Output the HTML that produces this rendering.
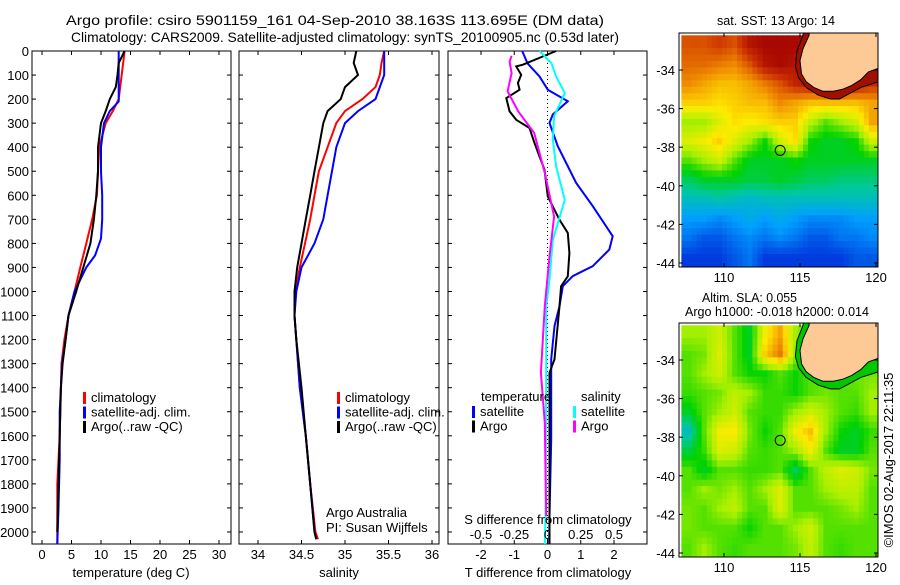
<!DOCTYPE html>
<html><head><meta charset="utf-8"><style>
body{margin:0;background:#fff;width:900px;height:580px;overflow:hidden}
svg{font-family:"Liberation Sans",sans-serif;font-size:13px}
</style></head><body>
<svg id="c" width="900" height="580" xmlns="http://www.w3.org/2000/svg">
<text x="66" y="25" textLength="538" lengthAdjust="spacingAndGlyphs" font-size="14">Argo profile: csiro 5901159_161 04-Sep-2010 38.163S 113.695E (DM data)</text>
<text x="71" y="42" textLength="548" lengthAdjust="spacingAndGlyphs" font-size="14">Climatology: CARS2009. Satellite-adjusted climatology: synTS_20100905.nc (0.53d later)</text>
<text x="717" y="25" textLength="118" lengthAdjust="spacingAndGlyphs">sat. SST: 13 Argo: 14</text>
<text x="702" y="302" textLength="95" lengthAdjust="spacingAndGlyphs">Altim. SLA: 0.055</text>
<text x="685" y="316" textLength="184" lengthAdjust="spacingAndGlyphs">Argo h1000: -0.018 h2000: 0.014</text>
<text transform="translate(893,460) rotate(-90)" text-anchor="middle">©IMOS 02-Aug-2017 22:11:35</text>
<g id="g"></g>
</svg>
<script>
// ---- profile data ----
const depthTA=[0,50,100,150,200,250,300,400,500,600,700,800,900,1000,1100,1200,1300,1400,1600,1800,2000];
const tempArgo=[14,13,12.8,12.5,11.5,10.8,10,9.5,9.5,9.2,8.8,8.2,7,5.8,4.5,4,3.5,3.2,3,2.8,2.6];
const depthTC=[0,100,200,250,300,400,500,600,700,800,900,1000,1100,1200,1300,1400,1600,1800,2000,2050];
const tempClim=[14,13.5,13,12,10.8,9.7,9.5,9.3,8.5,7.5,6.5,5.5,4.5,3.8,3.3,3.2,3,2.6,2.6,2.6];
const depthTS=[0,100,210,250,300,400,500,600,700,780,850,900,1000,1100,1200,1300,1500,1700,1900,2050];
const tempSat=[13,13,13,11.5,10.5,10,10,10.2,10.2,10,9,7.5,5.5,4.5,4,3.4,3,3,2.8,2.6];
const depthS=[0,50,100,150,200,250,300,400,500,600,700,800,900,1000,1100,1200,1400,1600,1800,2000,2030];
const salArgo=[35.13,35.1,35.15,35.0,34.95,34.8,34.75,34.7,34.65,34.6,34.55,34.5,34.45,34.42,34.42,34.44,34.5,34.55,34.6,34.65,34.67];
const salClim=[35.45,35.42,35.4,35.35,35.2,35.0,34.9,34.8,34.7,34.65,34.6,34.54,34.48,34.43,34.42,34.44,34.48,34.55,34.6,34.66,34.69];
const salSat=[35.45,35.45,35.45,35.4,35.35,35.15,35.0,34.9,34.85,34.8,34.75,34.65,34.5,34.44,34.42,34.44,34.48,34.55,34.6,34.65,34.67];
const depthDTS=[0,51,106,161,209,264,299,396,465,548,645,770,826,895,936,978,1061,1144,1282,1615,1934,2050];
const dTSat=[-0.76,-0.6,-0.24,0.01,0.61,0.16,0.06,0.31,0.56,0.86,1.36,1.96,1.86,1.36,0.76,0.46,0.36,0.21,0.11,0.11,0.06,0.05];
const depthDTA=[0,57,64,99,133,161,196,251,286,320,383,494,605,702,757,840,937,978,1061,1282,1338,1934,2050];
const dTArgo=[0.26,-0.74,-0.94,-0.79,-0.89,-0.84,-1.24,-1.14,-0.94,-0.54,-0.39,-0.09,0.01,0.36,0.61,0.66,0.61,0.41,0.36,0.21,0.06,0.06,0.06];
const depthDSS=[0,51,106,175,271,368,480,619,785,951,1061,1338,1934,2050];
const dSSat=[-0.06,0.03,0.065,0.13,0.05,0.04,0.065,0.13,0.04,0.015,-0.01,-0.01,-0.015,-0.02];
const depthDSA=[20,44,92,168,251,341,507,688,854,1061,1338,1546,1934];
const dSArgo=[-0.27,-0.285,-0.27,-0.3,-0.22,-0.1,-0.02,0.05,0.015,-0.02,-0.05,-0.02,-0.01];
// ---- map data (0..1 colour index), 13 cols lon 107.2.., 12 rows lat -32.2.. ----
const sstGrid=[
[.85,.85,.88,.85,.95,.98,.98,.98,.98,.9,.9,.9,.9],
[.82,.82,.8,.78,.85,.95,.98,.95,.92,.9,.9,.9,.92],
[.78,.75,.72,.72,.75,.8,.85,.92,.95,.95,.95,.95,.9],
[.7,.7,.68,.7,.72,.72,.78,.75,.72,.72,.72,.72,.75],
[.55,.55,.62,.68,.66,.68,.7,.7,.58,.5,.55,.6,.75],
[.62,.65,.7,.62,.55,.45,.6,.68,.45,.42,.42,.45,.6],
[.5,.55,.6,.5,.42,.42,.42,.45,.42,.42,.42,.42,.42],
[.38,.42,.42,.42,.4,.4,.42,.4,.38,.38,.36,.36,.36],
[.3,.3,.32,.3,.28,.3,.3,.3,.3,.3,.3,.3,.3],
[.22,.22,.2,.22,.25,.22,.25,.22,.2,.2,.2,.22,.22],
[.18,.15,.15,.18,.2,.18,.2,.18,.15,.15,.18,.18,.2],
[.12,.12,.12,.15,.18,.12,.12,.12,.12,.12,.12,.15,.15]];
const slaGrid=[
[.55,.55,.6,.5,.42,.65,.75,.55,.5,.5,.5,.5,.5],
[.5,.52,.62,.5,.42,.7,.8,.55,.5,.5,.5,.5,.5],
[.5,.55,.6,.5,.45,.45,.5,.45,.5,.5,.5,.52,.52],
[.48,.5,.52,.58,.55,.48,.48,.45,.5,.52,.5,.5,.55],
[.42,.5,.55,.6,.5,.48,.48,.55,.6,.55,.5,.48,.55],
[.3,.5,.65,.66,.52,.45,.5,.65,.72,.55,.45,.42,.48],
[.4,.48,.62,.6,.5,.48,.5,.55,.65,.5,.42,.42,.5],
[.5,.42,.5,.5,.48,.48,.5,.38,.5,.58,.62,.6,.52],
[.5,.55,.52,.55,.5,.55,.62,.5,.5,.55,.58,.58,.5],
[.52,.5,.55,.58,.5,.5,.62,.5,.5,.5,.52,.55,.5],
[.52,.5,.5,.5,.45,.5,.5,.55,.6,.5,.5,.5,.5],
[.5,.55,.5,.48,.5,.5,.5,.52,.58,.5,.48,.5,.5]];
const coastLon=[115.6,115.2,115.0,115.1,115.4,115.9,116.5,117.2,117.8,118.4,119.0,119.5,120.2];
const coastLat=[-32.2,-32.9,-33.5,-34.2,-34.6,-34.9,-35.1,-35.1,-35.0,-34.8,-34.5,-34.1,-33.9];
const shelfLon=[115.2,114.8,114.7,114.9,115.4,116.2,117.0,117.6,118.3,119.0,120.2];
const shelfLat=[-32.2,-33.0,-33.8,-34.4,-34.9,-35.3,-35.5,-35.5,-35.2,-34.9,-34.6];
const argoLon=113.695, argoLat=-38.163;

const NS="http://www.w3.org/2000/svg";
const G=document.getElementById('g');
function el(t,a,p){const e=document.createElementNS(NS,t);for(const k in a)e.setAttribute(k,a[k]);(p||G).appendChild(e);return e;}
function txt(x,y,s,anchor,p){const e=el('text',{x:x,y:y,'text-anchor':anchor||'middle'},p);e.textContent=s;return e;}
const Y0=51, Y1=544, D1=2050;
const yD=d=>Y0+(Y1-Y0)*d/D1;
function lin(d0,d1,p0,p1){return v=>p0+(v-d0)*(p1-p0)/(d1-d0);}
function line(xs,ds,fx,col,name){
  let pts=xs.map((v,i)=>fx(v).toFixed(1)+','+yD(ds[i]).toFixed(1)).join(' ');
  const e=el('polyline',{points:pts,fill:'none',stroke:col,'stroke-width':2});
  
  
}
function box(x0,x1,name){
  const e=el('rect',{x:x0,y:Y0,width:x1-x0,height:Y1-Y0,fill:'none',stroke:'#000','stroke-width':1});
  
  
  for(let d=0;d<=2000;d+=100){el('line',{x1:x0,x2:x0+4,y1:yD(d),y2:yD(d),stroke:'#000'});el('line',{x1:x1,x2:x1-4,y1:yD(d),y2:yD(d),stroke:'#000'});}
}
function xticks(fx,vals,labels,x0,x1,name){
  vals.forEach((v,i)=>{const x=fx(v);el('line',{x1:x,x2:x,y1:Y1,y2:Y1-4,stroke:'#000'});el('line',{x1:x,x2:x,y1:Y0,y2:Y0+4,stroke:'#000'});
    const t=txt(x,559,labels[i]);});
}
function legend(x,y,cols,labels,name){
  cols.forEach((c,i)=>{el('rect',{x:x,y:y+i*14.5-10,width:3,height:12,fill:c});
    const t=txt(x+8,y+i*14.5,labels[i],'start');});
}
// Panel 1
const fT=lin(0,30,42,219);
box(32,231,'temperature-panel');
for(let d=0;d<=2000;d+=100){const t=txt(29,yD(d)+5,String(d),'end');}
xticks(fT,[0,5,10,15,20,25,30],['0','5','10','15','20','25','30'],32,231,'temperature-tick-label');
txt(131,577,'temperature (deg C)');
line(tempClim,depthTC,fT,'#f00','temp-climatology-line');
line(tempSat,depthTS,fT,'#00f','temp-satellite-line');
line(tempArgo,depthTA,fT,'#000','temp-argo-line');
legend(83,402,['#f00','#00f','#000'],['climatology','satellite-adj. clim.','Argo(..raw -QC)'],'temperature-legend-entry');
// Panel 2
const fS=lin(34,36,258,432);
box(239,439,'salinity-panel');
xticks(fS,[34,34.5,35,35.5,36],['34','34.5','35','35.5','36'],239,439,'salinity-tick-label');
txt(339,577,'salinity');
line(salClim,depthS,fS,'#f00','sal-climatology-line');
line(salSat,depthS,fS,'#00f','sal-satellite-line');
line(salArgo,depthS,fS,'#000','sal-argo-line');
legend(337,402,['#f00','#00f','#000'],['climatology','satellite-adj. clim.','Argo(..raw -QC)'],'salinity-legend-entry');
txt(326,517,'Argo Australia','start');
txt(326,532,'PI: Susan Wijffels','start');
// Panel 3
const fD=lin(-2,2,481,614);
const fDS=lin(-0.5,0.5,481,614);
box(448,647,'difference-panel');
xticks(fD,[-2,-1,0,1,2],['-2','-1','0','1','2'],448,647,'t-diff-tick-label');
txt(548,577,'T difference from climatology');
el('line',{x1:fD(0),x2:fD(0),y1:Y0,y2:Y1,stroke:'#000','stroke-dasharray':'1,3'});
line(dTSat,depthDTS,fD,'#00f','t-diff-satellite-line');
line(dTArgo,depthDTA,fD,'#000','t-diff-argo-line');
line(dSSat,depthDSS,fDS,'#0ff','s-diff-satellite-line');
line(dSArgo,depthDSA,fDS,'#f0f','s-diff-argo-line');
txt(548,524,'S difference from climatology');
[-0.5,-0.25,0,0.25,0.5].forEach((v,i)=>{const t=txt(fDS(v),539,['-0.5','-0.25','0','0.25','0.5'][i]);});
txt(481,401,'temperature','start');
legend(472,416,['#00f','#000'],['satellite','Argo'],'t-diff-legend-entry');
txt(581,401,'salinity','start');
legend(573,416,['#0ff','#f0f'],['satellite','Argo'],'s-diff-legend-entry');
// Maps
const stops=[[0,0,140],[0,50,220],[0,160,255],[0,200,160],[0,210,0],[170,240,0],[255,235,0],[240,140,0],[205,50,0],[160,0,0]];
function cmap(v){v=Math.max(0,Math.min(1,v))*(stops.length-1);const i=Math.min(stops.length-2,Math.floor(v)),f=v-i;
  const c=stops[i].map((a,k)=>Math.round(a+(stops[i+1][k]-a)*f));return 'rgb('+c.join(',')+')';}
function map(top,grid,name,coastFill){
  const fx=lin(110,120,724,876), fy=lin(-34,-44,top+37,top+230);
  const x0=679,x1=878,y0=top,y1=top+234;
  const g=el('g',{});
  const cp=el('clipPath',{id:'cp'+top},g);el('rect',{x:x0,y:y0,width:x1-x0,height:y1-y0},cp);
  const inner=el('g',{'clip-path':'url(#cp'+top+')'},g);
  const R=grid.length,C=grid[0].length,sub=3;
  for(let r=0;r<R*sub;r++)for(let c=0;c<C*sub;c++){
    const gr=Math.min(R-1,(r+0.5)/sub-0.5), gc=Math.min(C-1,(c+0.5)/sub-0.5);
    const r0=Math.max(0,Math.floor(gr)),c0=Math.max(0,Math.floor(gc)),r1=Math.min(R-1,r0+1),c1=Math.min(C-1,c0+1);
    const fr=Math.max(0,gr-r0),fc=Math.max(0,gc-c0);
    const v=grid[r0][c0]*(1-fr)*(1-fc)+grid[r0][c1]*(1-fr)*fc+grid[r1][c0]*fr*(1-fc)+grid[r1][c1]*fr*fc;
    const lx=107.2+c/sub, ly=-32.2-r/sub;
    el('rect',{x:fx(lx).toFixed(1),y:fy(ly).toFixed(1),width:(15.2/sub+0.6).toFixed(1),height:(19.3/sub+0.6).toFixed(1),fill:cmap(v)},inner);
  }
  const sh=shelfLon.map((v,i)=>fx(v).toFixed(1)+','+fy(shelfLat[i]).toFixed(1)).join(' ');
  el('polygon',{points:sh+' '+fx(121)+','+fy(-32)+' '+fx(115.2)+','+fy(-32),fill:coastFill,stroke:'#000','stroke-width':1},inner);
  const cs=coastLon.map((v,i)=>fx(v).toFixed(1)+','+fy(coastLat[i]).toFixed(1)).join(' ');
  const land=el('polygon',{points:cs+' '+fx(121)+','+fy(-32)+' '+fx(115.6)+','+fy(-32),fill:'#fdc994',stroke:'#000','stroke-width':1},inner);
  
  const m=el('circle',{cx:fx(argoLon),cy:fy(argoLat),r:5,fill:'none',stroke:'#000','stroke-width':1},g);
  
  el('rect',{x:x0,y:y0,width:x1-x0,height:y1-y0,fill:'none',stroke:'#000'},g);
  [-34,-36,-38,-40,-42,-44].forEach(l=>{const y=fy(l);el('line',{x1:x0,x2:x0+4,y1:y,y2:y,stroke:'#000'},g);el('line',{x1:x1,x2:x1-4,y1:y,y2:y,stroke:'#000'},g);
    const t=txt(675,y+5,String(l),'end',g);});
  [110,115,120].forEach(l=>{const x=fx(l);el('line',{x1:x,x2:x,y1:y1,y2:y1-4,stroke:'#000'},g);el('line',{x1:x,x2:x,y1:y0,y2:y0+4,stroke:'#000'},g);
    const t=txt(x,y1+15,String(l),'middle',g);});
}
map(33,sstGrid,'sst-map','#a01000');
map(323,slaGrid,'sla-map','#00c800');
</script>
</body></html>
